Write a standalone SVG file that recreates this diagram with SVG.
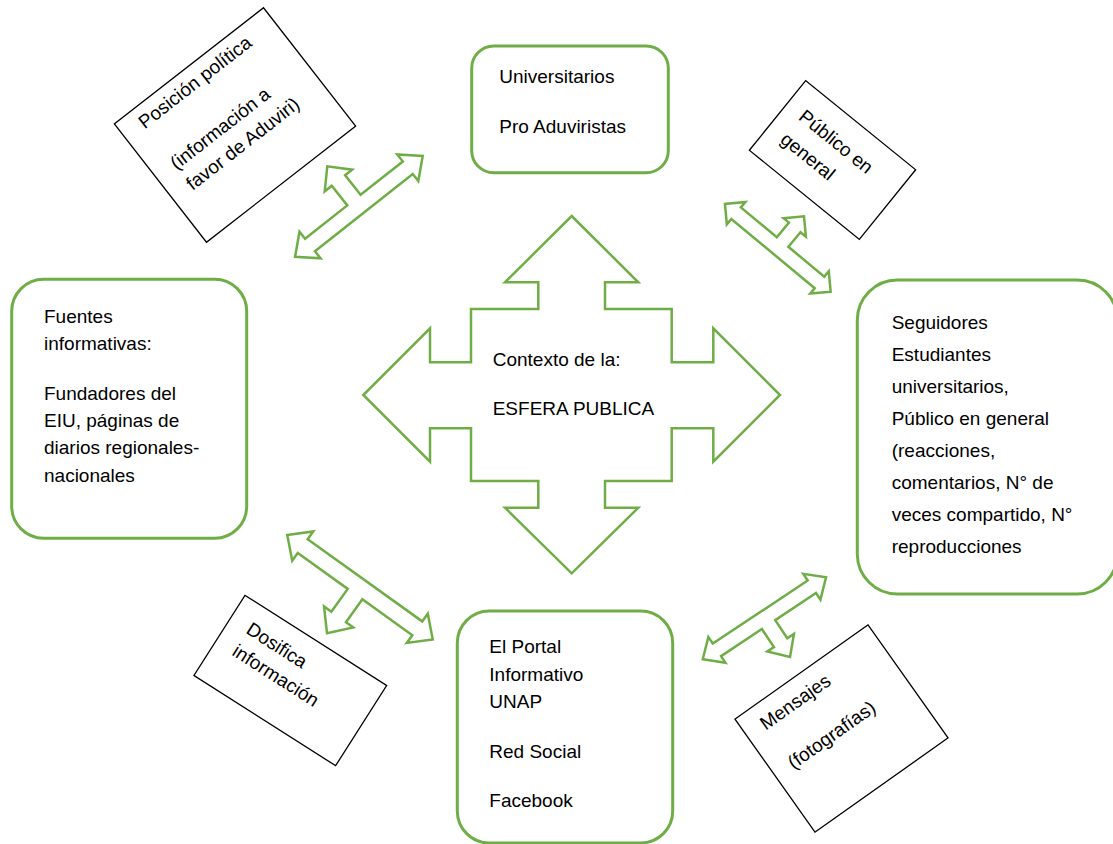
<svg xmlns="http://www.w3.org/2000/svg" width="1113" height="844" viewBox="0 0 1113 844">
<style>
.box{fill:#fff;stroke:#70AD47;stroke-width:3}
.note{fill:#fff;stroke:#000;stroke-width:1.3}
.arr{fill:#fff;stroke:#70AD47;stroke-width:2.5;stroke-linejoin:miter}
text{font-family:"Liberation Sans",Arial,sans-serif;font-size:19px;fill:#000}
</style>
<rect width="1113" height="844" fill="#fff"/>
<g id="esfera">
<polygon class="arr" points="571.7,216 638.3,282.3 605,282.3 605,309 671.7,309 671.7,362.3 713.3,362.3 713.3,328.3 780,395 713.3,461.7 713.3,428.3 671.7,428.3 671.7,481 605,481 605,507.7 638.3,507.7 571.7,573.3 505,507.7 538.3,507.7 538.3,481 471,481 471,428.3 430,428.3 430,461.7 363.3,395 430,328.3 430,362.3 471,362.3 471,309 538.3,309 538.3,282.3 505,282.3"/>
<text x="492.7" y="365.7">Contexto de la:</text>
<text x="492.7" y="415">ESFERA PUBLICA</text>
</g>
<g id="universitarios">
<rect class="box" x="471.7" y="46" width="196.6" height="126.7" rx="22"/>
<text x="499.3" y="83.3">Universitarios</text>
<text x="499.3" y="132.7">Pro Aduviristas</text>
</g>
<g id="fuentes">
<rect class="box" x="11.7" y="279.3" width="235" height="259" rx="32"/>
<text x="44" y="322.7">Fuentes</text>
<text x="44" y="350">informativas:</text>
<text x="44" y="400">Fundadores del</text>
<text x="44" y="426.7">EIU, páginas de</text>
<text x="44" y="454.3">diarios regionales-</text>
<text x="44" y="481.7">nacionales</text>
</g>
<g id="seguidores">
<rect class="box" x="857.3" y="280" width="260" height="314" rx="40"/>
<text x="891.7" y="329.3">Seguidores</text>
<text x="891.7" y="361">Estudiantes</text>
<text x="891.7" y="392.7">universitarios,</text>
<text x="891.7" y="425">Público en general</text>
<text x="891.7" y="456.7">(reacciones,</text>
<text x="891.7" y="489">comentarios, N° de</text>
<text x="891.7" y="520.7">veces compartido, N°</text>
<text x="891.7" y="552.7">reproducciones</text>
</g>
<g id="portal">
<rect class="box" x="457.3" y="611" width="215.4" height="232" rx="32"/>
<text x="489.3" y="653.3">El Portal</text>
<text x="489.3" y="681">Informativo</text>
<text x="489.3" y="708.3">UNAP</text>
<text x="489.3" y="758.3">Red Social</text>
<text x="489.3" y="807.3">Facebook</text>
</g>
<g id="posicion" transform="translate(235,125) rotate(-37.9)">
<rect class="note" x="-94.5" y="-75" width="189" height="150"/>
<text x="-74" y="-52">Posición política</text>
<text x="-74" y="0">(información a</text>
<text x="-74" y="26">favor de Aduviri)</text>
</g>
<g id="publico" transform="translate(832.5,160) rotate(39)">
<rect class="note" x="-70.75" y="-44.75" width="141.5" height="89.5"/>
<text x="-53" y="-10">Público en</text>
<text x="-53" y="19">general</text>
</g>
<g id="dosifica" transform="translate(290.3,680.5) rotate(32.5)">
<rect class="note" x="-84" y="-47.5" width="168" height="95"/>
<text x="-64" y="-16">Dosifica</text>
<text x="-64" y="10">información</text>
</g>
<g id="mensajes" transform="translate(841.5,728.5) rotate(-35.3)">
<rect class="note" x="-81.5" y="-69.25" width="163" height="138.5"/>
<text x="-63" y="-42">Mensajes</text>
<text x="-63" y="6">(fotografías)</text>
</g>
<g id="connectors">
<polygon class="arr" transform="translate(358.9,206.4) rotate(-38.3)" points="81.3,0 62.3,17 62.3,8 -62.3,8 -62.3,17 -81.3,0 -62.3,-17 -62.3,-8 -8.5,-8 -8.5,-33 -17.5,-33 0,-51 17.5,-33 8.5,-33 8.5,-8 62.3,-8 62.3,-17"/>
<polygon class="arr" transform="translate(777.8,247.8) rotate(39.7)" points="68.7,0 54.2,14.5 54.2,7.5 -54.2,7.5 -54.2,14.5 -68.7,0 -54.2,-14.5 -54.2,-7.5 -7.5,-7.5 -7.5,-26.5 -14.5,-26.5 0,-41 14.5,-26.5 7.5,-26.5 7.5,-7.5 54.2,-7.5 54.2,-14.5"/>
<polygon class="arr" transform="translate(360,587.2) rotate(215.65)" points="89.5,0 70.5,18 70.5,8.5 -70.5,8.5 -70.5,18 -89.5,0 -70.5,-18 -70.5,-8.5 -9,-8.5 -9,-36.6 -18,-36.6 0,-56.6 18,-36.6 9,-36.6 9,-8.5 70.5,-8.5 70.5,-18"/>
<polygon class="arr" transform="translate(764.4,618.3) rotate(146.4)" points="74,0 57,15.5 57,7.5 -57,7.5 -57,15.5 -74,0 -57,-15.5 -57,-7.5 -8,-7.5 -8,-29.3 -16,-29.3 0,-46.3 16,-29.3 8,-29.3 8,-7.5 57,-7.5 57,-15.5"/>
</g>
</svg>
